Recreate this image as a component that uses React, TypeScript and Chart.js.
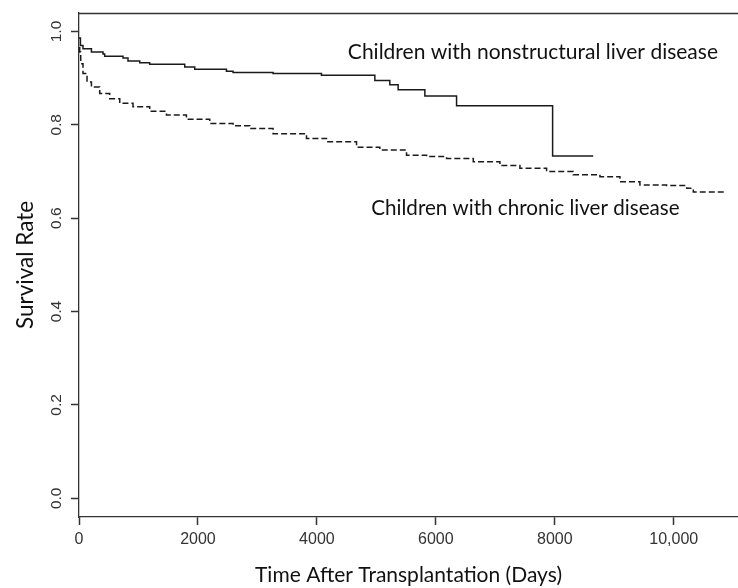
import React, { useEffect, useRef } from 'react';
import { Chart, registerables } from 'chart.js';

Chart.register(...registerables);

// Children with nonstructural liver disease (solid step curve)
const nonstructDays = [0, 24, 67, 209, 404, 432, 740, 824, 1021, 1189, 1778, 1946, 2479, 2590, 3263, 4077, 4974, 5226, 5366, 5815, 6348, 7963, 8646];
const nonstructSurvival = [0.986, 0.970, 0.963, 0.956, 0.952, 0.947, 0.943, 0.937, 0.933, 0.930, 0.924, 0.919, 0.915, 0.912, 0.910, 0.906, 0.895, 0.886, 0.875, 0.862, 0.841, 0.733, 0.733];

// Children with chronic liver disease (dashed step curve)
const chronicDays = [0, 12, 29, 67, 135, 209, 348, 516, 685, 908, 1189, 1470, 1806, 2198, 2590, 2871, 3263, 3825, 4161, 4666, 5058, 5507, 5844, 6180, 6629, 7077, 7413, 7862, 8310, 8759, 9095, 9431, 9880, 10217, 10328, 10861];
const chronicSurvival = [0.965, 0.956, 0.931, 0.910, 0.892, 0.881, 0.867, 0.856, 0.846, 0.839, 0.829, 0.821, 0.812, 0.803, 0.798, 0.792, 0.781, 0.771, 0.764, 0.752, 0.746, 0.735, 0.732, 0.728, 0.721, 0.713, 0.707, 0.700, 0.693, 0.689, 0.678, 0.671, 0.670, 0.664, 0.656, 0.656];

const seriesLabels = ['Children with nonstructural liver disease', 'Children with chronic liver disease'];

const xTickValues = [0, 2000, 4000, 6000, 8000, 10000];
const xTickLabels = ['0', '2000', '4000', '6000', '8000', '10,000'];
const yTickValues = [0, 0.2, 0.4, 0.6, 0.8, 1.0];
const yTickLabels = ['0.0', '0.2', '0.4', '0.6', '0.8', '1.0'];

const xTitle = 'Time After Transplantation (Days)';
const yTitle = 'Survival Rate';

const TEXT_FONT = 'Lato, "Open Sans", sans-serif';
const TICK_FONT = '"Liberation Sans", Arial, sans-serif';
const FRAME = '#333333';
const INK = '#1a1a1a';
const TICK_LEN = 8;

// label anchors in data coordinates (center x, baseline y)
const labelAnchors = [
  { x: 7632, y: 0.9416, size: 21 },
  { x: 7506, y: 0.606, size: 20.6 },
];

const framePlugin = {
  id: 'frameTop',
  afterDraw(chart: any) {
    const { ctx, chartArea } = chart;
    ctx.save();
    ctx.strokeStyle = FRAME;
    ctx.lineWidth = 1.3;
    ctx.beginPath();
    ctx.moveTo(chartArea.left, Math.round(chartArea.top) + 0.5);
    ctx.lineTo(chartArea.right, Math.round(chartArea.top) + 0.5);
    ctx.stroke();
    ctx.restore();
  },
};

const curveLabelPlugin = {
  id: 'curveLabels',
  afterDatasetsDraw(chart: any) {
    const { ctx, scales } = chart;
    ctx.save();
    ctx.fillStyle = '#111';
    ctx.textAlign = 'center';
    ctx.textBaseline = 'alphabetic';
    chart.data.datasets.forEach((ds: any, i: number) => {
      const a = labelAnchors[i];
      ctx.font = `${a.size}px ${TEXT_FONT}`;
      ctx.fillText(ds.label, scales.x.getPixelForValue(a.x), scales.y.getPixelForValue(a.y));
    });
    ctx.restore();
  },
};

export default function App() {
  const ref = useRef<HTMLCanvasElement | null>(null);

  useEffect(() => {
    if (!ref.current) return;
    const chart = new Chart(ref.current, {
      type: 'line',
      data: {
        datasets: [
          {
            label: seriesLabels[0],
            data: nonstructDays.map((d, i) => ({ x: d, y: nonstructSurvival[i] })),
            borderColor: INK,
            borderWidth: 1.5,
            pointRadius: 0,
            stepped: true,
            fill: false,
          },
          {
            label: seriesLabels[1],
            data: chronicDays.map((d, i) => ({ x: d, y: chronicSurvival[i] })),
            borderColor: INK,
            borderWidth: 1.5,
            borderDash: [6, 3],
            pointRadius: 0,
            stepped: true,
            fill: false,
          },
        ],
      },
      options: {
        animation: false,
        responsive: false,
        devicePixelRatio: 1,
        layout: { padding: { top: 10, left: 0, right: 0, bottom: 0 } },
        plugins: {
          legend: { display: false },
          tooltip: { enabled: false },
        },
        scales: {
          x: {
            type: 'linear',
            min: 0,
            max: 11080,
            afterBuildTicks: (s: any) => {
              s.ticks = xTickValues.map((v) => ({ value: v }));
            },
            afterFit: (s: any) => {
              s.height = 71;
            },
            ticks: {
              autoSkip: false,
              maxRotation: 0,
              padding: 5,
              color: '#333',
              font: { family: TICK_FONT, size: 16 },
              callback: (v: any) => {
                const idx = xTickValues.indexOf(Number(v));
                return idx >= 0 ? xTickLabels[idx] : '';
              },
            },
            grid: {
              display: true,
              drawOnChartArea: false,
              drawTicks: true,
              tickLength: TICK_LEN,
              color: FRAME,
              tickColor: FRAME,
              tickWidth: 1.5,
            },
            border: { display: true, color: FRAME, width: 1.3 },
            title: {
              display: true,
              text: xTitle,
              color: '#111',
              font: { family: TEXT_FONT, size: 21 },
              padding: { top: 0, bottom: 0 },
            },
          },
          y: {
            type: 'linear',
            min: -0.04,
            max: 1.04,
            afterBuildTicks: (s: any) => {
              s.ticks = yTickValues.map((v) => ({ value: v }));
            },
            afterFit: (s: any) => {
              s.width = 79;
            },
            ticks: {
              autoSkip: false,
              minRotation: 90,
              maxRotation: 90,
              crossAlign: 'center',
              padding: 3.5,
              color: '#333',
              font: { family: TICK_FONT, size: 15.5 },
              callback: (v: any) => {
                const idx = yTickValues.findIndex((t) => Math.abs(t - Number(v)) < 1e-9);
                return idx >= 0 ? yTickLabels[idx] : '';
              },
            },
            grid: {
              display: true,
              drawOnChartArea: false,
              drawTicks: true,
              tickLength: TICK_LEN,
              color: FRAME,
              tickColor: FRAME,
              tickWidth: 1.5,
            },
            border: { display: true, color: FRAME, width: 1.3 },
            title: {
              display: true,
              text: yTitle,
              color: '#111',
              font: { family: TEXT_FONT, size: 22.5 },
              padding: { top: 12, bottom: 0 },
            },
          },
        },
      } as any,
      plugins: [framePlugin, curveLabelPlugin],
    });
    return () => chart.destroy();
  }, []);

  return (
    <div style={{ position: 'fixed', left: 0, top: 0, width: 738, height: 588, background: '#fff' }}>
      <canvas ref={ref} width={738} height={588} style={{ display: 'block' }} />
    </div>
  );
}
